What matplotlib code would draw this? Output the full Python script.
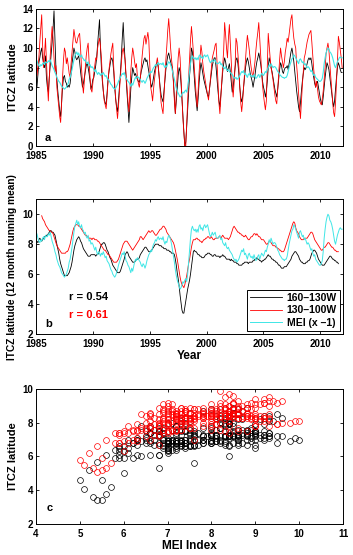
import numpy as np
import matplotlib
matplotlib.use("Agg")
import matplotlib.pyplot as plt

plt.rcParams['font.family'] = ['Liberation Sans', 'DejaVu Sans']
plt.rcParams['font.weight'] = 'bold'
plt.rcParams['axes.labelweight'] = 'bold'

START_YEAR = 1985
nan = float('nan')

# monthly ITCZ latitude, 160-130W (black) - panel a, one row per year 1985..2011
black_raw = [
    7.0, 6.0, 7.2, 8.5, 9.0, 9.6, 10.0, 9.0, 8.4, 8.0, 9.2, 7.0,
    6.0, 5.5, 7.0, 8.2, 9.5, 10.6, 12.0, 13.8, 11.0, 8.0, 6.8, 5.6,
    4.6, 3.6, 3.0, 4.4, 6.0, 7.0, 7.2, 6.6, 6.4, 6.0, 6.2, 6.0,
    6.4, 7.4, 8.4, 9.2, 10.0, 9.6, 9.0, 8.8, 9.0, 9.2, 8.6, 7.6,
    6.8, 6.0, 6.4, 7.0, 7.6, 8.2, 8.5, 8.0, 7.4, 6.6, 5.8, 6.2,
    6.8, 7.0, 7.6, 8.2, 9.0, 10.4, 11.6, 12.9, 10.0, 8.0, 6.6, 5.6,
    4.8, 4.4, 4.2, 5.4, 6.8, 7.6, 8.2, 8.8, 9.0, 8.6, 7.6, 6.0,
    4.8, 4.0, 3.5, 4.6, 6.0, 7.4, 9.0, 11.0, 12.6, 10.4, 8.6, 7.0,
    5.4, 4.0, 2.4, 4.0, 5.8, 7.0, 8.0, 7.6, 7.2, 7.4, 7.0, 6.8,
    6.6, 6.5, 7.0, 7.6, 8.0, 8.4, 8.8, 9.0, 8.6, 8.8, 8.2, 7.6,
    7.0, 6.4, 6.0, 6.4, 7.0, 7.6, 8.0, 8.4, 8.5, 8.0, 7.0, 6.0,
    5.2, 4.8, 4.5, 5.6, 6.8, 7.8, 8.6, 9.2, 9.5, 9.0, 8.6, 8.2,
    8.0, 6.6, 5.0, 3.3, 4.6, 6.0, 7.2, 8.0, 7.6, 6.4, 4.8, 3.0,
    1.4, 0.0, 0.4, 2.0, 3.8, 5.6, 7.2, 8.4, 10.0, 9.6, 8.4, 7.0,
    5.6, 4.6, 3.6, 4.8, 6.4, 7.6, 8.5, 8.0, 7.4, 6.8, 6.4, 6.0,
    5.6, 5.2, 5.0, 5.8, 6.6, 7.4, 8.2, 8.6, 9.0, 9.0, 8.0, 6.8,
    5.6, 4.6, 4.0, 5.2, 6.4, 7.6, 8.4, 9.0, 8.6, 8.0, 7.6, 8.0,
    8.4, 7.6, 6.6, 5.5, 6.0, 7.0, 8.0, 8.8, 9.0, 8.4, 7.4, 6.0,
    5.0, 4.5, 5.0, 6.0, 7.0, 8.0, 8.6, 9.0, 8.6, 8.0, 7.4, 7.0,
    6.6, 6.0, 6.6, 7.2, 8.0, 8.6, 9.0, 9.5, 9.0, 8.4, 7.6, 6.6,
    6.0, 5.6, 5.0, 5.6, 6.6, 8.0, 9.0, 8.6, 8.0, 7.6, 7.0, 6.4,
    5.8, 5.4, 5.0, 5.8, 6.8, 7.8, 8.5, 8.2, 7.6, 7.4, 7.8, 8.0,
    8.0, 8.2, 7.8, 8.4, 9.0, 9.6, 10.0, 9.4, 8.6, 7.6, 6.6, 5.6,
    4.8, 4.0, 3.5, 4.4, 5.6, 6.6, 7.4, 8.0, 7.8, 8.0, 8.4, 8.8,
    9.0, 8.8, 9.0, 8.4, 7.6, 7.0, 6.4, 6.0, 6.4, 6.6, 6.0, 5.4,
    4.8, 4.4, 4.2, 5.0, 6.0, 7.0, 7.8, 8.5, 8.2, 7.8, 7.0, 6.2,
    5.4, 4.6, 4.0, 4.6, 5.8, 7.0, 8.0, 8.5, 8.2, 7.8, 7.5, 7.5,
]

# monthly ITCZ latitude, 130-100W (red) - panel a
red_raw = [
    11.2, 7.2, 8.0, 9.0, 10.6, 12.0, 13.4, 10.2, 8.0, 9.4, 11.0, 8.6,
    6.4, 4.6, 6.8, 9.2, 10.8, 12.2, 11.0, 9.0, 7.6, 8.2, 6.0, 5.0,
    4.0, 3.0, 2.4, 4.4, 7.0, 8.8, 10.0, 9.6, 8.4, 9.0, 8.2, 7.4,
    7.0, 8.4, 9.6, 10.8, 11.9, 11.2, 10.6, 10.5, 11.0, 11.3, 11.5, 10.0,
    8.0, 6.4, 5.4, 6.6, 8.0, 9.2, 10.0, 10.5, 8.6, 7.0, 5.8, 5.5,
    6.5, 7.4, 8.2, 9.0, 8.8, 10.0, 10.6, 11.0, 10.2, 9.0, 7.0, 5.6,
    4.6, 4.2, 3.8, 5.2, 6.6, 7.8, 8.6, 9.4, 10.0, 10.5, 8.0, 6.4,
    5.0, 3.8, 2.8, 4.0, 5.6, 7.0, 8.4, 9.6, 10.0, 9.4, 8.8, 7.2,
    6.0, 4.6, 3.5, 5.4, 7.6, 9.0, 10.0, 9.4, 8.6, 8.0, 8.4, 7.0,
    6.4, 6.0, 6.8, 8.0, 9.2, 10.2, 11.0, 11.3, 10.4, 11.0, 11.6, 10.8,
    8.4, 6.0, 5.4, 4.6, 5.8, 6.8, 7.6, 8.4, 9.0, 8.2, 7.0, 5.6,
    4.4, 3.8, 3.3, 5.2, 7.0, 8.8, 10.2, 11.8, 13.0, 11.6, 10.0, 8.8,
    8.0, 6.4, 4.6, 3.3, 5.4, 7.4, 9.0, 10.0, 9.0, 7.0, 5.0, 2.8,
    1.4, 0.0, 0.0, 2.2, 4.6, 7.0, 9.0, 10.8, 12.2, 11.0, 9.6, 8.0,
    6.6, 5.2, 4.0, 5.6, 7.4, 8.8, 10.3, 9.6, 8.4, 7.6, 7.0, 6.4,
    5.8, 5.2, 4.7, 5.8, 6.8, 8.0, 9.0, 9.4, 9.8, 10.3, 10.5, 8.4,
    6.2, 4.4, 3.3, 5.0, 6.6, 8.2, 9.8, 12.6, 11.4, 10.0, 9.0, 11.0,
    12.4, 10.6, 8.6, 6.4, 5.0, 6.4, 8.0, 11.0, 10.6, 9.4, 8.0, 6.0,
    4.4, 3.5, 4.6, 6.0, 7.4, 8.8, 10.2, 11.3, 10.6, 9.8, 8.8, 8.0,
    7.4, 7.0, 7.8, 8.6, 9.8, 10.8, 11.6, 12.6, 11.0, 9.2, 7.6, 6.2,
    5.2, 4.4, 3.7, 4.6, 8.0, 11.5, 10.2, 9.0, 8.0, 7.4, 6.8, 6.0,
    5.2, 4.6, 4.3, 5.8, 7.4, 8.8, 10.0, 9.2, 8.6, 8.0, 8.6, 9.6,
    10.2, 11.0, 10.6, 11.4, 12.2, 13.0, 13.4, 12.0, 11.0, 10.4, 10.0, 8.2,
    7.0, 5.4, 4.0, 2.8, 4.6, 6.2, 7.6, 9.0, 9.4, 10.0, 10.6, 11.0,
    11.4, 11.6, 11.8, 10.6, 9.2, 7.8, 6.8, 6.0, 6.6, 5.8, 5.0, 4.6,
    4.4, 4.2, 4.8, 5.6, 6.8, 8.0, 9.4, 10.0, 10.5, 9.8, 8.4, 7.0,
    5.8, 4.4, 3.4, 3.0, 4.4, 6.4, 8.6, 11.2, 10.6, 9.8, 9.0, 8.0,
]

# MEI (x -1), rescaled to latitude units
mei = [
    8.6, 8.7, 8.4, 8.2, 8.1, 8.3, 8.2, 8.4, 8.5, 8.3, 8.6, 8.5,
    8.5, 8.7, 8.6, 8.8, 8.5, 8.2, 8.0, 7.8, 7.5, 7.3, 7.0, 6.8,
    6.6, 6.5, 6.3, 6.1, 6.0, 5.9, 5.8, 5.9, 6.0, 6.2, 6.4, 6.8,
    7.0, 7.4, 7.8, 8.3, 8.8, 9.2, 9.4, 9.6, 9.3, 9.5, 9.2, 9.1,
    9.3, 9.0, 8.9, 8.7, 8.8, 8.5, 8.4, 8.6, 8.2, 8.3, 8.0, 8.1,
    8.0, 7.8, 7.6, 7.8, 7.5, 7.3, 7.5, 7.4, 7.2, 7.4, 7.3, 7.5,
    7.3, 7.1, 7.2, 6.9, 6.8, 6.7, 6.5, 6.3, 6.2, 6.0, 5.9, 5.8,
    5.9, 6.1, 6.3, 6.6, 6.8, 7.0, 7.2, 7.4, 7.3, 7.5, 7.2, 6.9,
    6.8, 6.6, 6.5, 6.3, 6.1, 6.4, 6.2, 6.5, 6.8, 7.0, 6.9, 7.1,
    7.0, 6.9, 6.8, 6.6, 6.5, 6.7, 6.6, 6.4, 6.6, 6.9, 7.1, 7.3,
    7.4, 7.6, 7.5, 7.8, 8.0, 8.1, 8.3, 8.2, 8.4, 8.5, 8.3, 8.4,
    8.4, 8.3, 8.5, 8.2, 8.0, 8.2, 8.1, 8.4, 8.6, 8.5, 8.3, 8.0,
    7.6, 7.2, 6.8, 6.3, 5.9, 5.6, 5.4, 5.2, 5.0, 5.1, 5.3, 5.5,
    5.4, 5.6, 5.7, 5.5, 6.0, 6.8, 7.6, 8.4, 9.0, 9.2, 9.0, 8.9,
    9.0, 8.8, 9.0, 8.8, 9.2, 9.3, 9.0, 9.1, 8.9, 9.2, 9.3, 9.1,
    9.2, 9.3, 9.0, 8.7, 8.5, 8.6, 8.8, 8.6, 8.7, 8.8, 8.5, 8.4,
    8.4, 8.5, 8.6, 8.3, 8.4, 8.1, 8.0, 7.9, 8.1, 7.8, 7.7, 7.8,
    7.6, 7.5, 7.4, 7.3, 7.1, 7.0, 6.9, 7.0, 6.8, 6.9, 7.0, 7.2,
    7.4, 7.6, 7.5, 7.7, 7.3, 7.4, 7.2, 7.0, 7.3, 7.4, 7.2, 7.1,
    7.2, 7.0, 7.3, 7.1, 6.9, 7.0, 7.2, 7.3, 7.0, 7.2, 7.4, 7.3,
    7.2, 7.4, 7.6, 7.5, 7.8, 8.0, 8.3, 8.1, 8.4, 8.2, 8.0, 8.1,
    8.1, 8.0, 7.8, 7.6, 7.5, 7.3, 7.2, 7.1, 7.0, 7.0, 6.9, 7.0,
    7.0, 7.2, 7.6, 8.0, 8.3, 8.6, 8.9, 9.0, 9.3, 9.2, 9.0, 8.8,
    8.6, 8.4, 8.8, 8.9, 8.7, 8.5, 8.6, 8.3, 8.4, 8.2, 8.0, 8.1,
    8.0, 7.8, 7.6, 7.7, 7.4, 7.2, 7.3, 7.0, 6.9, 6.8, 6.7, 6.6,
    6.6, 6.7, 6.9, 7.5, 8.4, 9.0, 9.5, 9.8, 10.0, 9.9, 9.6, 9.5,
    9.3, 9.0, 8.6, 8.2, 8.0, 8.3, 8.6, 8.8, 9.0, 9.1, 9.0, 9.0,
]

# 12 month running means (panel b)
black_mean = [
    8.2, 8.2, 8.1, 8.3, 8.4, 8.3, 8.2, 8.3, 8.4, 8.5, 8.5, 8.6,
    8.6, 8.7, 8.8, 8.9, 8.9, 8.8, 8.8, 8.7, 8.6, 8.3, 8.0, 7.7,
    7.4, 7.0, 6.7, 6.5, 6.3, 6.1, 5.9, 5.9, 5.9, 5.9, 6.0, 6.1,
    6.3, 6.5, 6.8, 7.2, 7.6, 7.9, 8.1, 8.3, 8.4, 8.5, 8.4, 8.2,
    8.1, 7.9, 7.7, 7.6, 7.5, 7.4, 7.3, 7.2, 7.2, 7.2, 7.3, 7.3,
    7.3, 7.3, 7.3, 7.2, 7.3, 7.3, 7.4, 7.6, 7.8, 8.0, 8.0, 8.1,
    8.1, 8.0, 7.8, 7.6, 7.5, 7.3, 7.1, 7.0, 6.8, 6.6, 6.5, 6.4,
    6.3, 6.2, 6.1, 6.1, 6.1, 6.2, 6.4, 6.6, 6.8, 7.0, 7.3, 7.4,
    7.5, 7.4, 7.2, 7.1, 7.0, 6.9, 6.8, 6.8, 6.8, 6.9, 7.0, 7.0,
    7.0, 7.1, 7.3, 7.4, 7.5, 7.6, 7.7, 7.8, 7.8, 7.7, 7.6, 7.5,
    7.5, 7.5, 7.6, 7.7, 7.8, 7.9, 8.0, 8.0, 8.0, 8.0, 7.9, 7.9,
    7.9, 7.8, 7.8, 7.7, 7.7, 7.7, 7.6, 7.6, 7.6, 7.5, 7.5, 7.4,
    7.4, 7.4, 7.3, 7.0, 6.6, 6.1, 5.7, 5.2, 4.6, 4.1, 3.6, 3.4,
    3.4, 3.8, 4.2, 4.6, 5.0, 5.3, 5.6, 6.0, 6.5, 7.0, 7.5, 7.6,
    7.5, 7.5, 7.4, 7.3, 7.3, 7.2, 7.2, 7.1, 7.1, 7.1, 7.2, 7.3,
    7.3, 7.4, 7.4, 7.4, 7.3, 7.3, 7.2, 7.2, 7.3, 7.3, 7.2, 7.2,
    7.2, 7.2, 7.1, 7.2, 7.2, 7.3, 7.2, 7.2, 7.1, 7.0, 7.0, 7.0,
    7.0, 6.9, 7.0, 6.9, 6.9, 6.8, 6.8, 6.8, 6.7, 6.7, 6.6, 6.6,
    6.6, 6.6, 6.7, 6.7, 6.8, 6.8, 6.8, 6.8, 6.7, 6.8, 6.8, 6.8,
    6.8, 6.9, 6.9, 7.0, 7.0, 7.1, 7.0, 7.0, 6.9, 6.9, 6.8, 6.9,
    6.9, 7.0, 7.0, 7.1, 7.2, 7.3, 7.2, 7.2, 7.1, 7.0, 7.0, 6.9,
    6.9, 6.8, 6.8, 6.7, 6.6, 6.6, 6.5, 6.4, 6.4, 6.4, 6.5, 6.5,
    6.5, 6.6, 6.7, 6.8, 6.9, 7.0, 7.2, 7.3, 7.4, 7.5, 7.5, 7.4,
    7.3, 7.2, 7.0, 6.9, 6.8, 6.8, 6.7, 6.7, 6.7, 6.8, 6.8, 6.9,
    6.9, 7.0, 7.2, 7.4, 7.5, 7.6, 7.6, 7.5, 7.4, 7.2, 7.0, 6.9,
    6.8, 6.7, 6.6, 6.6, 6.6, 6.7, 6.8, 6.9, 7.0, 7.1, 7.2, 7.2,
    7.1, 7.0, 7.0, 6.9, 6.9, 6.8, 6.8, 6.7, nan, nan, nan, nan,
]

red_mean = [
    nan, nan, nan, nan, nan, nan, 9.9, 9.7, 9.6, 9.5, 9.3, 9.2,
    9.1, 9.0, 8.9, 8.9, 8.8, 8.8, 8.7, 8.5, 8.3, 8.1, 7.9, 7.8,
    7.7, 7.6, 7.5, 7.4, 7.4, 7.4, 7.4, 7.4, 7.5, 7.5, 7.6, 7.8,
    8.0, 8.3, 8.6, 8.9, 9.1, 9.2, 9.3, 9.3, 9.3, 9.2, 9.2, 9.1,
    9.0, 8.9, 8.8, 8.7, 8.6, 8.6, 8.5, 8.5, 8.4, 8.4, 8.4, 8.3,
    8.4, 8.4, 8.3, 8.3, 8.3, 8.2, 8.2, 8.1, 8.0, 7.9, 7.8, 7.7,
    7.6, 7.6, 7.5, 7.4, 7.3, 7.3, 7.2, 7.1, 7.0, 6.9, 6.8, 6.8,
    6.8, 6.8, 6.9, 7.0, 7.2, 7.4, 7.6, 7.8, 8.0, 8.1, 8.2, 8.2,
    8.2, 8.1, 8.0, 7.9, 7.8, 7.7, 7.6, 7.7, 7.8, 7.9, 8.0, 8.1,
    8.2, 8.3, 8.5, 8.5, 8.4, 8.3, 8.4, 8.5, 8.6, 8.7, 8.8, 8.9,
    8.8, 8.8, 8.9, 8.9, 8.8, 8.7, 8.6, 8.6, 8.7, 8.8, 8.9, 9.0,
    9.0, 9.1, 9.2, 9.2, 9.1, 9.0, 8.8, 8.7, 8.6, 8.5, 8.4, 8.3,
    8.2, 8.1, 7.9, 7.6, 7.3, 7.0, 6.6, 6.2, 5.8, 5.5, 5.3, 5.2,
    5.1, 5.3, 5.6, 5.9, 6.3, 6.7, 7.0, 7.4, 7.8, 8.1, 8.3, 8.3,
    8.3, 8.4, 8.4, 8.3, 8.3, 8.2, 8.2, 8.1, 8.2, 8.3, 8.3, 8.4,
    8.4, 8.5, 8.5, 8.4, 8.4, 8.5, 8.4, 8.3, 8.3, 8.4, 8.4, 8.4,
    8.4, 8.5, 8.5, 8.4, 8.5, 8.6, 8.5, 8.4, 8.4, 8.4, 8.4, 8.3,
    8.4, 8.5, 8.7, 8.9, 9.1, 9.2, 9.1, 9.0, 8.9, 8.8, 8.8, 8.7,
    8.7, 8.6, 8.6, 8.5, 8.5, 8.6, 8.5, 8.4, 8.3, 8.3, 8.4, 8.5,
    8.5, 8.6, 8.7, 8.7, 8.6, 8.7, 8.6, 8.5, 8.5, 8.4, 8.3, 8.3,
    8.3, 8.2, 8.1, 8.0, 8.0, 8.1, 8.2, 8.2, 8.1, 8.0, 7.9, 7.9,
    7.9, 7.8, 7.8, 7.7, 7.7, 7.6, 7.6, 7.5, 7.5, 7.5, 7.6, 7.8,
    8.0, 8.2, 8.4, 8.6, 8.8, 9.0, 9.2, 9.4, 9.5, 9.4, 9.1, 8.9,
    8.8, 8.7, 8.5, 8.4, 8.3, 8.3, 8.3, 8.4, 8.4, 8.4, 8.4, 8.5,
    8.6, 8.7, 8.8, 8.8, 8.7, 8.5, 8.3, 8.2, 8.1, 8.0, 7.9, 7.8,
    7.7, 7.6, 7.6, 7.7, 7.8, 7.8, 7.9, 8.0, 8.1, 8.1, 8.0, 7.9,
    7.8, 7.8, 7.7, 7.6, 7.6, 7.5, 7.5, 7.5, nan, nan, nan, nan,
]

years = START_YEAR + np.arange(len(mei)) / 12.0
black_raw = np.array(black_raw)
red_raw = np.array(red_raw)
mei = np.array(mei)
black_mean = np.array(black_mean, dtype=float)
red_mean = np.array(red_mean, dtype=float)

CYAN = '#3fe6e6'
TICK_FS = 7
LABEL_FS = 8

fig = plt.figure(figsize=(3.53, 5.55), dpi=100)
ax_a = fig.add_axes([0.102, 0.737, 0.870, 0.247])
ax_b = fig.add_axes([0.102, 0.398, 0.870, 0.243])
ax_c = fig.add_axes([0.102, 0.056, 0.870, 0.243])

for ax in (ax_a, ax_b, ax_c):
    ax.tick_params(direction='in', top=True, right=True, length=2.5,
                   width=0.6, labelsize=TICK_FS, pad=2)
    ax.tick_params(axis='x', pad=3.5)
    for s in ax.spines.values():
        s.set_linewidth(0.7)

# panel a
ax_a.plot(years, black_raw, color='k', lw=0.6)
ax_a.plot(years, red_raw, color='r', lw=0.6)
ax_a.plot(years, mei, color=CYAN, lw=0.8)
ax_a.set_xlim(1985, 2012)
ax_a.set_ylim(0, 14)
ax_a.set_xticks(range(1985, 2011, 5))
ax_a.set_yticks(range(0, 15, 2))
ax_a.set_ylabel('ITCZ latitude', fontsize=LABEL_FS, labelpad=3)
ax_a.text(1985.8, 0.5, 'a', fontsize=8, fontweight='bold')

# panel b
ax_b.plot(years, black_mean, color='k', lw=0.6, label='160\u2013130W')
ax_b.plot(years, red_mean, color='r', lw=0.6, label='130\u2013100W')
ax_b.plot(years, mei, color=CYAN, lw=0.7, label='MEI (x \u20131)')
ax_b.set_xlim(1985, 2012)
ax_b.set_ylim(2, 11)
ax_b.set_xticks(range(1985, 2011, 5))
ax_b.set_yticks(range(2, 11, 2))
ax_b.set_ylabel('ITCZ latitude (12 month running mean)', fontsize=7.3, labelpad=4)
ax_b.set_xlabel('Year', fontsize=8.5, labelpad=1)
ax_b.text(1985.8, 2.5, 'b', fontsize=8, fontweight='bold')
ax_b.text(1987.9, 4.3, 'r = 0.54', fontsize=8, fontweight='bold', color='k')
ax_b.text(1987.9, 3.1, 'r = 0.61', fontsize=8, fontweight='bold', color='r')
leg = ax_b.legend(loc='lower right', fontsize=7.5, handlelength=3.0,
                  borderaxespad=0.3, fancybox=False, framealpha=1,
                  edgecolor='k', borderpad=0.3, labelspacing=0.25,
                  handletextpad=0.5)
leg.get_frame().set_linewidth(0.7)
for t in leg.get_texts():
    t.set_fontweight('bold')

# panel c
ax_c.plot(mei, black_mean, 'o', mfc='none', mec='k', ms=4.2, mew=0.5)
ax_c.plot(mei, red_mean, 'o', mfc='none', mec='r', ms=4.2, mew=0.5)
ax_c.set_xlim(4, 11)
ax_c.set_ylim(2, 10)
ax_c.set_xticks(range(4, 12))
ax_c.set_yticks(range(2, 11, 2))
ax_c.set_ylabel('ITCZ latitude', fontsize=LABEL_FS, labelpad=3)
ax_c.set_xlabel('MEI Index', fontsize=8.5, labelpad=1)
ax_c.text(4.25, 2.75, 'c', fontsize=8, fontweight='bold')

for ax in (ax_a, ax_b, ax_c):
    for lab in ax.get_xticklabels() + ax.get_yticklabels():
        lab.set_fontweight('bold')

fig.savefig('out.png', dpi=100)
